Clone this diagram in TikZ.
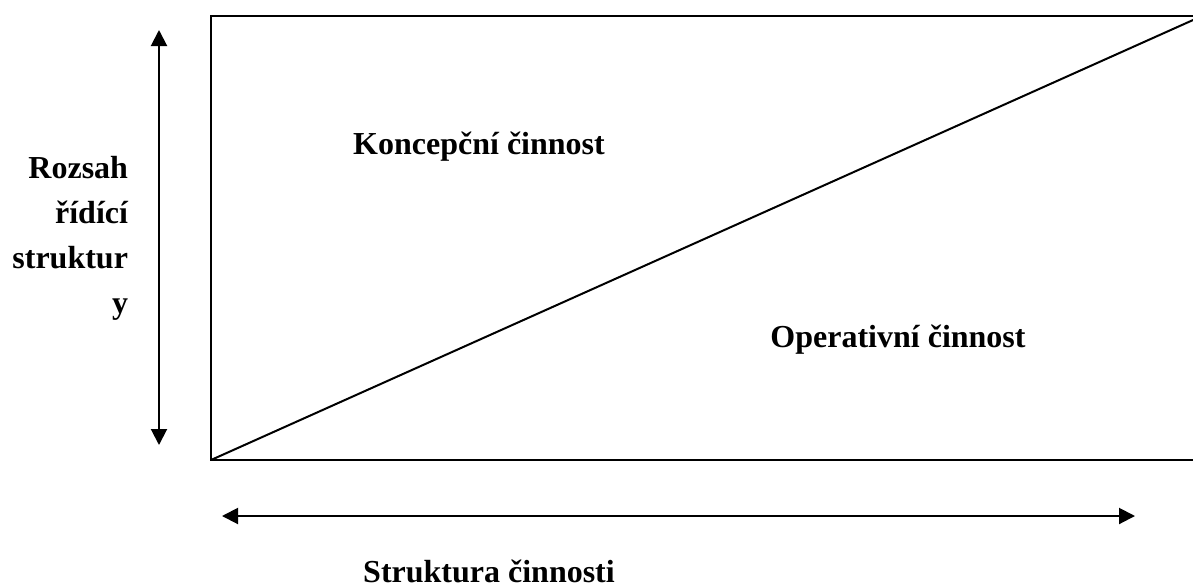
\documentclass[tikz,border=0pt]{standalone}
\usepackage{fontspec}
\setmainfont{Liberation Serif}
\usetikzlibrary{arrows.meta}
\begin{document}
\begin{tikzpicture}[x=1pt,y=-1pt,line width=2pt,
  lbl/.style={font=\fontsize{32}{38}\selectfont\bfseries,inner sep=0pt},
  dbl/.style={{Triangle[length=16pt,width=16pt]}-{Triangle[length=16pt,width=16pt]},line width=2pt}]
\useasboundingbox (0,0) rectangle (1193,587);
% frame
\coordinate (tl) at (211,16);
\coordinate (bl) at (211,460);
\coordinate (tr) at (1202,16);
\coordinate (br) at (1202,460);
\draw (tr) -- (tl) -- (bl) -- (br) -- cycle;
\draw (bl) -- (tr);
% arrows
\coordinate (vtop) at (159,30);
\coordinate (vbot) at (159,445);
\draw[dbl] (vbot) -- (vtop);
\coordinate (hl) at (222,516);
\coordinate (hr) at (1135,516);
\draw[dbl] (hl) -- (hr);
% labels
\node[lbl,anchor=base] (konc) at (479,154) {Koncepční činnost};
\node[lbl,anchor=base] (oper) at (898,347) {Operativní činnost};
\node[lbl,anchor=base] (strk) at (489,582) {Struktura činnosti};
\node[lbl,anchor=base east] (l1) at (129,178) {Rozsah};
\node[lbl,anchor=base east] (l2) at (129,223) {řídící};
\node[lbl,anchor=base east] (l3) at (129,268) {struktur};
\node[lbl,anchor=base east] (l4) at (129,313) {y};
\end{tikzpicture}
\end{document}
